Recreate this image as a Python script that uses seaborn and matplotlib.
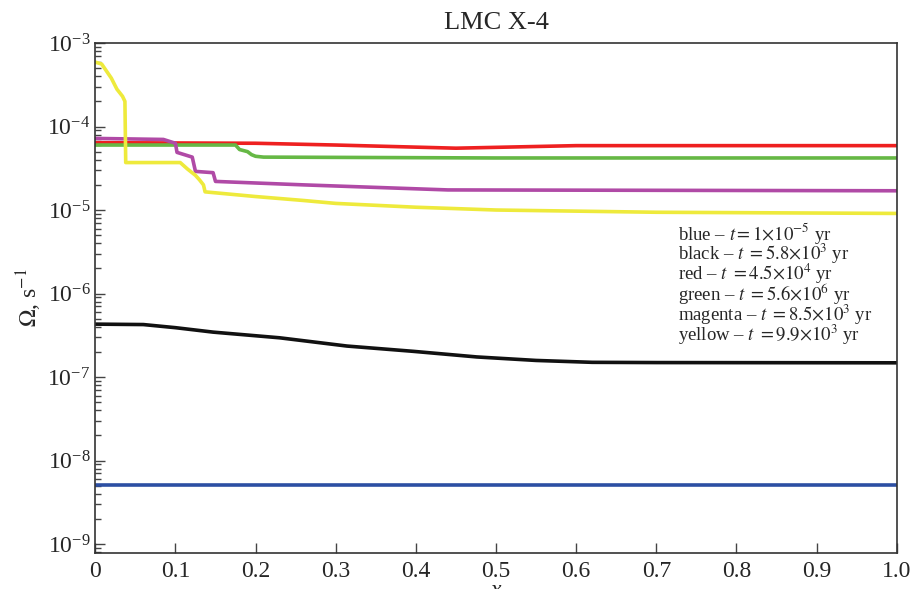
import numpy as np
import pandas as pd
import matplotlib
matplotlib.use('Agg')
import matplotlib.pyplot as plt
import matplotlib.ticker as mticker
import seaborn as sns

# ── Data ─────────────────────────────────────────────────────────────────────
blue_x = [0.0, 1.0]
blue_y = [5.1e-9, 5.1e-9]

black_x = [0.0, 0.06, 0.1, 0.147, 0.23, 0.314, 0.397, 0.476, 0.55, 0.62, 0.7, 1.0]
black_y = [4.3e-7, 4.25e-7, 3.9e-7, 3.45e-7, 2.95e-7, 2.35e-7, 2.03e-7, 1.74e-7,
           1.58e-7, 1.5e-7, 1.49e-7, 1.48e-7]

red_x = [0.0, 0.2, 0.3, 0.45, 0.6, 0.8, 1.0]
red_y = [6.4e-5, 6.3e-5, 6.0e-5, 5.5e-5, 5.9e-5, 5.9e-5, 5.9e-5]

green_x = [0.0, 0.175, 0.18, 0.19, 0.195, 0.2, 0.21, 0.5, 1.0]
green_y = [6.0e-5, 6.0e-5, 5.3e-5, 5.0e-5, 4.6e-5, 4.4e-5, 4.3e-5, 4.2e-5, 4.2e-5]

magenta_x = [0.0, 0.085, 0.1, 0.102, 0.121, 0.125, 0.147, 0.15, 0.26, 0.44, 1.0]
magenta_y = [7.2e-5, 7.0e-5, 6.3e-5, 4.9e-5, 4.3e-5, 2.9e-5, 2.8e-5, 2.2e-5,
             2.0e-5, 1.74e-5, 1.7e-5]

yellow_x = [0.0, 0.008, 0.02, 0.027, 0.034, 0.037, 0.038, 0.106, 0.115, 0.125, 0.13,
            0.135, 0.137, 0.2, 0.26, 0.3, 0.4, 0.5, 0.7, 1.0]
yellow_y = [5.9e-4, 5.6e-4, 3.8e-4, 2.8e-4, 2.3e-4, 2.0e-4, 3.7e-5, 3.7e-5, 3.1e-5,
            2.6e-5, 2.3e-5, 2.0e-5, 1.65e-5, 1.45e-5, 1.3e-5, 1.2e-5, 1.08e-5, 1.0e-5,
            9.4e-6, 9.1e-6]

SERIES = [
    ('blue', blue_x, blue_y, '#2c4fa3'),
    ('black', black_x, black_y, '#111111'),
    ('red', red_x, red_y, '#ee2020'),
    ('green', green_x, green_y, '#66b845'),
    ('magenta', magenta_x, magenta_y, '#b04aa6'),
    ('yellow', yellow_x, yellow_y, '#eeea3c'),
]

legend_lines = [
    r'blue – $t = 1{\times}10^{-5}$ yr',
    r'black – $t\ = 5.8{\times}10^{3}$ yr',
    r'red – $t\ = 4.5{\times}10^{4}$ yr',
    r'green – $t\ = 5.6{\times}10^{6}$ yr',
    r'magenta – $t\ = 8.5{\times}10^{3}$ yr',
    r'yellow – $t\ = 9.9{\times}10^{3}$ yr',
]

# ── Style ────────────────────────────────────────────────────────────────────
sns.set_theme(style='ticks')
plt.rcParams['font.family'] = ['Liberation Serif', 'DejaVu Serif']
plt.rcParams['mathtext.fontset'] = 'stix'

fig = plt.figure(figsize=(9.16, 5.89), dpi=100)
ax = fig.add_axes([0.104, 0.061, 0.875, 0.866])

for name, xs, ys, col in SERIES:
    df = pd.DataFrame({'x': xs, 'y': ys})
    sns.lineplot(data=df, x='x', y='y', ax=ax, color=col, linewidth=2.6,
                 sort=False, estimator=None, legend=False)

ax.set_yscale('log')
ax.set_xlim(0, 1.0)
ax.set_ylim(10 ** -9.108, 1e-3)
ax.xaxis.set_major_locator(mticker.MultipleLocator(0.1))
ax.xaxis.set_major_formatter(mticker.FuncFormatter(
    lambda v, p: '0' if abs(v) < 1e-9 else f'{v:.1f}'))
ax.yaxis.set_major_locator(mticker.LogLocator(base=10, numticks=20))
ax.yaxis.set_minor_locator(mticker.LogLocator(base=10, subs=np.arange(2, 10), numticks=20))
ax.yaxis.set_minor_formatter(mticker.NullFormatter())

ax.tick_params(axis='both', which='major', direction='in', length=7, width=1,
               labelsize=17, color='#444444')
ax.tick_params(axis='y', which='minor', direction='in', length=4, width=1, color='#444444')
ax.tick_params(axis='x', pad=6)
for sp in ax.spines.values():
    sp.set_color('#333333')
    sp.set_linewidth(1.2)

ax.set_xlabel('x', fontsize=17, style='italic', labelpad=-2)
ax.set_ylabel(r'$\Omega$, s$^{-1}$', fontsize=17, labelpad=2)
ax.set_title('LMC X-4', fontsize=19, pad=10)

for i, line in enumerate(legend_lines):
    ax.text(0.727, 0.627 - i * 0.04, line, transform=ax.transAxes,
            fontsize=13.5, va='center', ha='left')

fig.savefig('out.png', dpi=100)
